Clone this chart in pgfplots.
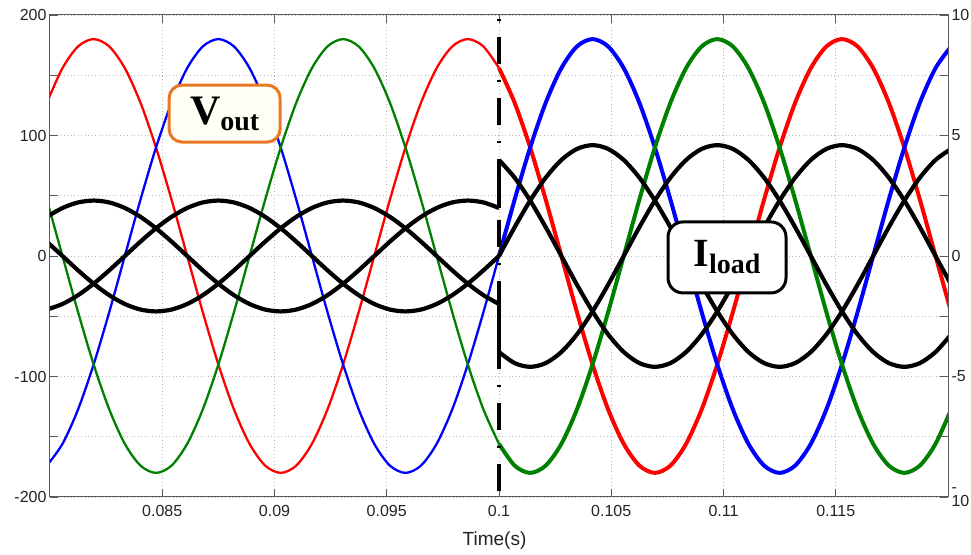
\documentclass[border=0pt]{standalone}
\usepackage{fontspec}
\setmainfont{Liberation Sans}
\newfontfamily\tnr{Liberation Serif}
\usepackage{pgfplots}
\usepackage{pgfplotstable}
\pgfplotsset{compat=1.18}
\definecolor{vred}{RGB}{255,0,0}
\definecolor{vblue}{RGB}{0,0,255}
\definecolor{vgreen}{RGB}{0,128,0}
\definecolor{boxorange}{RGB}{232,118,34}
\definecolor{axgray}{RGB}{90,90,90}
\definecolor{lblgray}{RGB}{35,35,35}

% voltages before the load step: t  red  blue  green
\pgfplotstableread{
t r b g
0.079861 127.3 -173.9 46.6
0.080556 155.9 -155.9 0
0.081250 173.9 -127.3 -46.6
0.081944 180 -90 -90
0.082639 173.9 -46.6 -127.3
0.083333 155.9 0 -155.9
0.084028 127.3 46.6 -173.9
0.084722 90 90 -180
0.085417 46.6 127.3 -173.9
0.086111 0 155.9 -155.9
0.086806 -46.6 173.9 -127.3
0.087500 -90 180 -90
0.088194 -127.3 173.9 -46.6
0.088889 -155.9 155.9 0
0.089583 -173.9 127.3 46.6
0.090278 -180 90 90
0.090972 -173.9 46.6 127.3
0.091667 -155.9 0 155.9
0.092361 -127.3 -46.6 173.9
0.093056 -90 -90 180
0.093750 -46.6 -127.3 173.9
0.094444 0 -155.9 155.9
0.095139 46.6 -173.9 127.3
0.095833 90 -180 90
0.096528 127.3 -173.9 46.6
0.097222 155.9 -155.9 0
0.097917 173.9 -127.3 -46.6
0.098611 180 -90 -90
0.099306 173.9 -46.6 -127.3
0.100000 155.9 0 -155.9
}\vpre

% voltages after the load step
\pgfplotstableread{
t r b g
0.100000 155.9 0 -155.9
0.100694 127.3 46.6 -173.9
0.101389 90 90 -180
0.102083 46.6 127.3 -173.9
0.102778 0 155.9 -155.9
0.103472 -46.6 173.9 -127.3
0.104167 -90 180 -90
0.104861 -127.3 173.9 -46.6
0.105556 -155.9 155.9 0
0.106250 -173.9 127.3 46.6
0.106944 -180 90 90
0.107639 -173.9 46.6 127.3
0.108333 -155.9 0 155.9
0.109028 -127.3 -46.6 173.9
0.109722 -90 -90 180
0.110417 -46.6 -127.3 173.9
0.111111 0 -155.9 155.9
0.111806 46.6 -173.9 127.3
0.112500 90 -180 90
0.113194 127.3 -173.9 46.6
0.113889 155.9 -155.9 0
0.114583 173.9 -127.3 -46.6
0.115278 180 -90 -90
0.115972 173.9 -46.6 -127.3
0.116667 155.9 0 -155.9
0.117361 127.3 46.6 -173.9
0.118056 90 90 -180
0.118750 46.6 127.3 -173.9
0.119444 0 155.9 -155.9
0.120139 -46.6 173.9 -127.3
}\vpost

% load currents before the step (A)
\pgfplotstableread{
t a b c
0.079861 1.626 -2.222 0.595
0.080556 1.992 -1.992 0
0.081250 2.222 -1.626 -0.595
0.081944 2.3 -1.15 -1.15
0.082639 2.222 -0.595 -1.626
0.083333 1.992 0 -1.992
0.084028 1.626 0.595 -2.222
0.084722 1.15 1.15 -2.3
0.085417 0.595 1.626 -2.222
0.086111 0 1.992 -1.992
0.086806 -0.595 2.222 -1.626
0.087500 -1.15 2.3 -1.15
0.088194 -1.626 2.222 -0.595
0.088889 -1.992 1.992 0
0.089583 -2.222 1.626 0.595
0.090278 -2.3 1.15 1.15
0.090972 -2.222 0.595 1.626
0.091667 -1.992 0 1.992
0.092361 -1.626 -0.595 2.222
0.093056 -1.15 -1.15 2.3
0.093750 -0.595 -1.626 2.222
0.094444 0 -1.992 1.992
0.095139 0.595 -2.222 1.626
0.095833 1.15 -2.3 1.15
0.096528 1.626 -2.222 0.595
0.097222 1.992 -1.992 0
0.097917 2.222 -1.626 -0.595
0.098611 2.3 -1.15 -1.15
0.099306 2.222 -0.595 -1.626
0.100000 1.992 0 -1.992
}\ipre

% load currents after the step (A)
\pgfplotstableread{
t a b c
0.100000 3.984 0 -3.984
0.100694 3.253 1.191 -4.443
0.101389 2.3 2.3 -4.6
0.102083 1.191 3.253 -4.443
0.102778 0 3.984 -3.984
0.103472 -1.191 4.443 -3.253
0.104167 -2.3 4.6 -2.3
0.104861 -3.253 4.443 -1.191
0.105556 -3.984 3.984 0
0.106250 -4.443 3.253 1.191
0.106944 -4.6 2.3 2.3
0.107639 -4.443 1.191 3.253
0.108333 -3.984 0 3.984
0.109028 -3.253 -1.191 4.443
0.109722 -2.3 -2.3 4.6
0.110417 -1.191 -3.253 4.443
0.111111 0 -3.984 3.984
0.111806 1.191 -4.443 3.253
0.112500 2.3 -4.6 2.3
0.113194 3.253 -4.443 1.191
0.113889 3.984 -3.984 0
0.114583 4.443 -3.253 -1.191
0.115278 4.6 -2.3 -2.3
0.115972 4.443 -1.191 -3.253
0.116667 3.984 0 -3.984
0.117361 3.253 1.191 -4.443
0.118056 2.3 2.3 -4.6
0.118750 1.191 3.253 -4.443
0.119444 0 3.984 -3.984
0.120139 -1.191 4.443 -3.253
}\ipost

\begin{document}
\begin{tikzpicture}
\pgfplotsset{
  every axis/.append style={
    scale only axis, width=898pt, height=482pt,
    xmin=0.08, xmax=0.12,
    tick align=inside, major tick length=8pt,
    axis line style={axgray, line width=1pt},
    tick style={axgray, line width=0.8pt},
    tick label style={font=\fontsize{16}{19}\selectfont, text=lblgray},
  }
}
\begin{axis}[
  ymin=-200, ymax=200,
  xtick={0.085,0.09,0.095,0.1,0.105,0.11,0.115},
  xticklabels={0.085,0.09,0.095,0.1,0.105,0.11,0.115},
  xtick pos=both, ytick pos=left,
  xticklabel style={yshift=-5pt},
  ytick={-200,-150,-100,-50,0,50,100,150,200},
  yticklabels={-200,,-100,,0,,100,,200},
  grid=major,
  grid style={gray!55, line width=0.8pt, dash pattern=on 1pt off 2.5pt},
  xlabel={Time(s)},
  xlabel style={font=\fontsize{19}{22}\selectfont, text=lblgray,
    at={(axis description cs:0.495,0)}, anchor=north, inner sep=0pt, yshift=-35pt},
]
\addplot[vred, line width=2.3pt, smooth] table[x=t, y=r] {\vpre};
\addplot[vblue, line width=2.3pt, smooth] table[x=t, y=b] {\vpre};
\addplot[vgreen, line width=2.3pt, smooth] table[x=t, y=g] {\vpre};
\addplot[vred, line width=4pt, smooth] table[x=t, y=r] {\vpost};
\addplot[vblue, line width=4pt, smooth] table[x=t, y=b] {\vpost};
\addplot[vgreen, line width=4pt, smooth] table[x=t, y=g] {\vpost};
\end{axis}

\begin{axis}[
  ymin=-10, ymax=10,
  axis y line*=right, axis x line=none,
  ytick={-10,-7.5,-5,-2.5,0,2.5,5,7.5,10},
  yticklabels={{\shortstack[l]{-\\10}},,-5,,0,,5,,10},
]
\addplot[black, line width=3.2pt, dash pattern=on 27pt off 16pt on 2pt off 16pt, dash phase=39pt] coordinates {(0.1,10) (0.1,-10)};
\addplot[black, line width=4.2pt, smooth, line join=round] table[x=t, y=a] {\ipre};
\addplot[black, line width=4.2pt, smooth, line join=round] table[x=t, y=b] {\ipre};
\addplot[black, line width=4.2pt, smooth, line join=round] table[x=t, y=c] {\ipre};
\addplot[black, line width=4.2pt, smooth, line join=round] table[x=t, y=a] {\ipost};
\addplot[black, line width=4.2pt, smooth, line join=round] table[x=t, y=b] {\ipost};
\addplot[black, line width=4.2pt, smooth, line join=round] table[x=t, y=c] {\ipost};
\addplot[black, line width=4.2pt] coordinates {(0.1,1.992) (0.1,3.984)};
\addplot[black, line width=4.2pt] coordinates {(0.1,-1.992) (0.1,-3.984)};
\node[draw=boxorange, line width=3pt, rounded corners=13pt, fill={rgb,255:red,255;green,255;blue,246},
  minimum width=111pt, minimum height=57pt, inner sep=0pt]
  at (axis cs:0.087778,5.91)
  {\tnr\bfseries\fontsize{42}{42}\selectfont V\raisebox{-6pt}{\fontsize{28}{28}\selectfont out}};
\node[draw=black, line width=3pt, rounded corners=15pt, fill=white,
  minimum width=118pt, minimum height=71pt, inner sep=0pt]
  at (axis cs:0.110156,-0.06)
  {\tnr\bfseries\fontsize{40}{40}\selectfont I\raisebox{-7pt}{\fontsize{28}{28}\selectfont load}};
\coordinate (bl) at (rel axis cs:0,0);
\coordinate (tr) at (rel axis cs:1,1);
\end{axis}
\pgfresetboundingbox
\path ([xshift=-50pt,yshift=-58pt]bl) rectangle ([xshift=23pt,yshift=15pt]tr);
\end{tikzpicture}
\end{document}
